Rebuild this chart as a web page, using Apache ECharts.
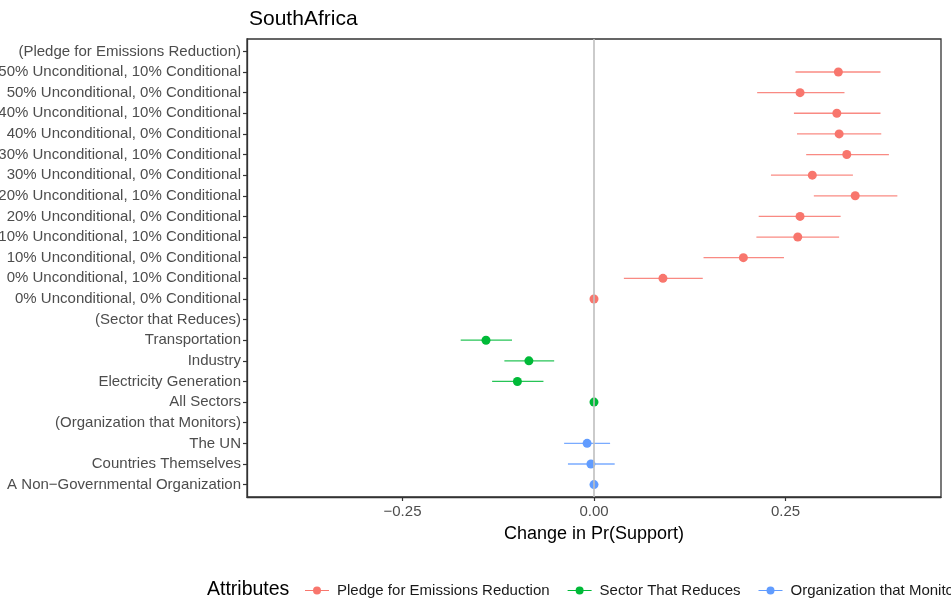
<!DOCTYPE html>
<html>
<head>
<meta charset="utf-8">
<script src="https://cdn.jsdelivr.net/npm/echarts@6/dist/echarts.min.js"></script>
<style>html,body{margin:0;padding:0;background:#fff}#c{width:951px;height:600px}</style>
</head>
<body>
<div id="c"></div>
<script>
// Row labels (top to bottom)
const categories = [
  "(Pledge for Emissions Reduction)",
  "50% Unconditional, 10% Conditional",
  "50% Unconditional, 0% Conditional",
  "40% Unconditional, 10% Conditional",
  "40% Unconditional, 0% Conditional",
  "30% Unconditional, 10% Conditional",
  "30% Unconditional, 0% Conditional",
  "20% Unconditional, 10% Conditional",
  "20% Unconditional, 0% Conditional",
  "10% Unconditional, 10% Conditional",
  "10% Unconditional, 0% Conditional",
  "0% Unconditional, 10% Conditional",
  "0% Unconditional, 0% Conditional",
  "(Sector that Reduces)",
  "Transportation",
  "Industry",
  "Electricity Generation",
  "All Sectors",
  "(Organization that Monitors)",
  "The UN",
  "Countries Themselves",
  "A Non\u2212Governmental Organization"
];

const seriesNames = ["Pledge for Emissions Reduction", "Sector That Reduces", "Organization that Monitors"];

const pledgeRows = [1,2,3,4,5,6,7,8,9,10,11,12];
const pledgeEst  = [0.319,0.269,0.317,0.320,0.330,0.285,0.341,0.269,0.266,0.195,0.090,0];
const pledgeLo   = [0.263,0.213,0.261,0.265,0.277,0.231,0.287,0.215,0.212,0.143,0.039,0];
const pledgeHi   = [0.374,0.327,0.374,0.375,0.385,0.338,0.396,0.322,0.320,0.248,0.142,0];

const sectorRows = [14,15,16,17];
const sectorEst  = [-0.141,-0.085,-0.100,0];
const sectorLo   = [-0.174,-0.117,-0.133,0];
const sectorHi   = [-0.107,-0.052,-0.066,0];

const orgRows = [19,20,21];
const orgEst  = [-0.009,-0.004,0];
const orgLo   = [-0.039,-0.034,0];
const orgHi   = [0.021,0.027,0];

const xTicks = [-0.25, 0, 0.25];

const colors = ["#F8766D", "#00BA38", "#619CFF"];
const groups = [
  [pledgeRows, pledgeEst, pledgeLo, pledgeHi],
  [sectorRows, sectorEst, sectorLo, sectorHi],
  [orgRows, orgEst, orgLo, orgHi]
];

const FONT = 'Liberation Sans, Arial, sans-serif';

const series = [];
groups.forEach((g, k) => {
  const [rows, est, lo, hi] = g;
  const barData = rows.map((r, i) => [lo[i], hi[i], r]).filter(d => d[0] !== d[1]);
  series.push({
    name: seriesNames[k],
    type: 'custom',
    silent: true,
    z: 3,
    encode: { x: [0, 1], y: 2 },
    data: barData,
    renderItem: function (params, api) {
      const a = api.coord([api.value(0), api.value(2)]);
      const b = api.coord([api.value(1), api.value(2)]);
      return {
        type: 'line',
        shape: { x1: a[0], y1: a[1], x2: b[0], y2: b[1] },
        style: { stroke: colors[k], lineWidth: 1.3, opacity: 0.85 }
      };
    }
  });
  series.push({
    name: seriesNames[k],
    type: 'scatter',
    z: 4,
    symbol: 'circle',
    symbolSize: 9,
    itemStyle: { color: colors[k], opacity: 1 },
    data: rows.map((r, i) => [est[i], r])
  });
});

// zero reference line
series.push({
  type: 'line',
  data: [],
  silent: true,
  z: 2,
  markLine: {
    silent: true,
    symbol: 'none',
    label: { show: false },
    lineStyle: { color: '#BEBEBE', width: 1.6, type: 'solid' },
    data: [{ xAxis: 0 }]
  }
});

const iconPath = 'path://M0,4.4h24v1.2h-24z M12,1a4,4 0 1,1 0,8a4,4 0 1,1 0,-8z';

const chart = echarts.init(document.getElementById('c'), null, { renderer: 'canvas' });
chart.setOption({
  animation: false,
  backgroundColor: '#fff',
  textStyle: { fontFamily: FONT },
  title: [
    { text: 'SouthAfrica', left: 244, top: 4,
      textStyle: { fontSize: 21, fontWeight: 'normal', color: '#000', fontFamily: FONT } },
    { text: 'Attributes', left: 202, top: 575,
      textStyle: { fontSize: 19.5, fontWeight: 'normal', color: '#000', fontFamily: FONT } }
  ],
  legend: {
    left: 300, top: 578, width: 1400,
    orient: 'horizontal',
    itemWidth: 24, itemHeight: 10, itemGap: 18,
    textStyle: { fontSize: 15, color: '#1a1a1a', padding: [0, 0, 0, 3], fontFamily: FONT },
    data: seriesNames.map((n, k) => ({ name: n, icon: iconPath, itemStyle: { color: colors[k] } }))
  },
  grid: {
    left: 247, right: 10, top: 39, bottom: 103,
    outerBoundsMode: 'none',
    show: true, borderColor: '#333', borderWidth: 1.3, containLabel: false
  },
  xAxis: {
    type: 'value',
    min: -0.453, max: 0.453,
    name: 'Change in Pr(Support)',
    nameLocation: 'middle',
    nameGap: 28,
    nameTextStyle: { fontSize: 18, color: '#000', fontFamily: FONT },
    axisLine: { show: true, onZero: false, lineStyle: { color: '#333', width: 1.3 } },
    axisTick: { show: true, length: 4, customValues: xTicks, lineStyle: { color: '#333', width: 1.2 } },
    axisLabel: {
      customValues: xTicks, margin: 7, fontSize: 15, color: '#4D4D4D', fontFamily: FONT,
      formatter: v => (v < 0 ? '\u2212' : '') + Math.abs(v).toFixed(2)
    },
    splitLine: { show: false }
  },
  yAxis: {
    type: 'value',
    inverse: true,
    min: -0.6, max: 21.6,
    axisLine: { show: true, onZero: false, lineStyle: { color: '#333', width: 1.3 } },
    axisTick: { show: true, length: 4, customValues: categories.map((c, i) => i), lineStyle: { color: '#333', width: 1.2 } },
    axisLabel: {
      customValues: categories.map((c, i) => i), margin: 6, fontSize: 15, color: '#4D4D4D', fontFamily: FONT,
      formatter: v => categories[Math.round(v)]
    },
    splitLine: { show: false }
  },
  series: series
});
</script>
</body>
</html>
